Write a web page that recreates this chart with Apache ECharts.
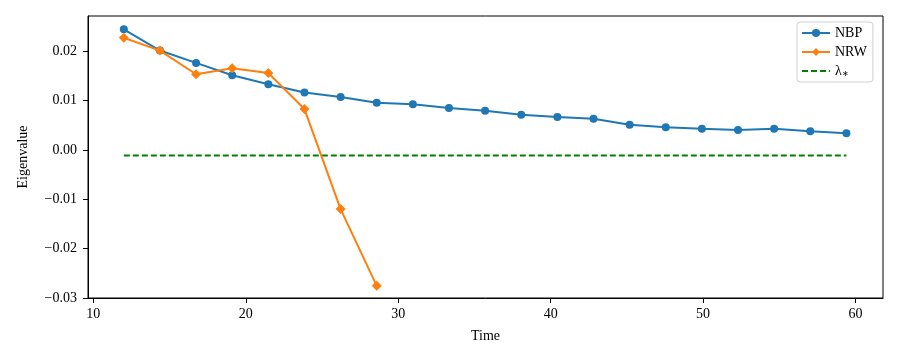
<!DOCTYPE html>
<html>
<head>
<meta charset="utf-8">
<script src="https://cdn.jsdelivr.net/npm/echarts@6/dist/echarts.min.js"></script>
<style>
  html, body { margin: 0; padding: 0; background: #fff; }
  #chart { width: 900px; height: 360px; }
</style>
</head>
<body>
<div id="chart"></div>
<script>
// NBP eigenvalue over time
const nbpTimes = [12.0, 14.37, 16.74, 19.11, 21.48, 23.85, 26.22, 28.59, 30.96, 33.33,
  35.7, 38.07, 40.44, 42.81, 45.18, 47.55, 49.92, 52.29, 54.66, 57.03, 59.4]
const nbpValues = [0.0244, 0.0201, 0.0176, 0.0151, 0.0133, 0.0116, 0.0107, 0.00953, 0.00921, 0.00846,
  0.0079, 0.0071, 0.00666, 0.0063, 0.00508, 0.00455, 0.00427, 0.0040, 0.00427, 0.00375, 0.00334]

// NRW eigenvalue over time
const nrwTimes = [12.0, 14.37, 16.74, 19.11, 21.48, 23.85, 26.22, 28.59]
const nrwValues = [0.0227, 0.0201, 0.0153, 0.0165, 0.01555, 0.00826, -0.0120, -0.02753]

// lambda_* reference level
const lambdaTimes = [12.0, 59.4]
const lambdaValues = [-0.00113, -0.00113]

const xTicks = [10, 20, 30, 40, 50, 60]
const yTicks = [-0.03, -0.02, -0.01, 0.00, 0.01, 0.02]

const font = 'Liberation Serif'

function pairs(xs, ys) {
  return xs.map((x, i) => [x, ys[i]])
}

const chart = echarts.init(document.getElementById('chart'), null, { renderer: 'canvas' })
chart.setOption({
  animation: false,
  textStyle: { fontFamily: font, color: '#000' },
  grid: {
    left: 88,
    right: 17,
    top: 16,
    bottom: 62,
    show: true,
    borderColor: '#000',
    borderWidth: 1
  },
  legend: {
    orient: 'vertical',
    left: 797,
    top: 22,
    itemWidth: 28,
    itemHeight: 10,
    itemGap: 5,
    padding: [4, 6, 4, 4],
    borderColor: '#d0d0d0',
    borderWidth: 1,
    borderRadius: 3,
    backgroundColor: 'rgba(255,255,255,0.8)',
    textStyle: {
      fontFamily: font,
      fontSize: 14,
      color: '#000',
      rich: {
        sub: { fontFamily: font, fontSize: 8, verticalAlign: 'bottom', padding: [6, 0, 0, 0] }
      }
    },
    formatter: function (name) {
      return name === 'lambda' ? 'λ{sub|∗}' : name
    },
    data: ['NBP', 'NRW', { name: 'lambda', itemStyle: { opacity: 0 } }]
  },
  xAxis: {
    type: 'value',
    min: 9.65,
    max: 61.8,
    name: 'Time',
    nameLocation: 'middle',
    nameGap: 31,
    nameTextStyle: { fontFamily: font, fontSize: 14, color: '#000' },
    splitLine: { show: false },
    axisLine: { show: true, onZero: false, lineStyle: { color: '#000', width: 1 } },
    axisTick: { show: true, length: 5, customValues: xTicks, lineStyle: { color: '#000' } },
    axisLabel: {
      customValues: xTicks,
      fontFamily: font,
      fontSize: 14,
      color: '#000',
      margin: 9
    }
  },
  yAxis: {
    type: 'value',
    min: -0.03,
    max: 0.0271,
    name: 'Eigenvalue',
    nameLocation: 'middle',
    nameRotate: 90,
    nameGap: 58,
    nameTextStyle: { fontFamily: font, fontSize: 14, color: '#000' },
    splitLine: { show: false },
    axisLine: { show: true, onZero: false, lineStyle: { color: '#000', width: 1 } },
    axisTick: { show: true, length: 5, customValues: yTicks, lineStyle: { color: '#000' } },
    axisLabel: {
      customValues: yTicks,
      fontFamily: font,
      fontSize: 14,
      color: '#000',
      margin: 11,
      formatter: function (v) {
        return v.toFixed(2).replace('-', '\u2212')
      }
    }
  },
  series: [
    {
      name: 'NBP',
      type: 'line',
      data: pairs(nbpTimes, nbpValues),
      symbol: 'circle',
      symbolSize: 8,
      itemStyle: { color: '#1f77b4' },
      lineStyle: { color: '#1f77b4', width: 2 },
      z: 3
    },
    {
      name: 'NRW',
      type: 'line',
      data: pairs(nrwTimes, nrwValues),
      symbol: 'diamond',
      symbolSize: 10,
      itemStyle: { color: '#ff7f0e' },
      lineStyle: { color: '#ff7f0e', width: 2 },
      z: 4
    },
    {
      name: 'lambda',
      type: 'line',
      data: pairs(lambdaTimes, lambdaValues),
      symbol: 'none',
      itemStyle: { color: '#008000' },
      lineStyle: { color: '#008000', width: 2, type: [6, 3] },
      z: 2
    }
  ]
})
</script>
</body>
</html>
